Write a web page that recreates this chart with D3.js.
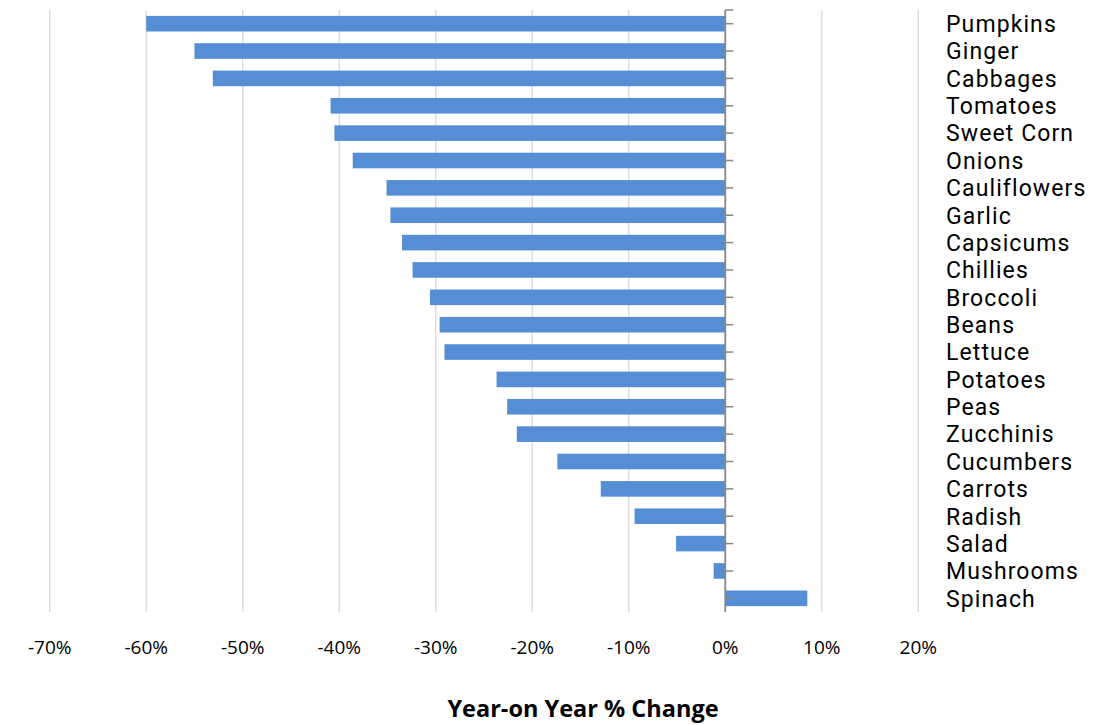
<!DOCTYPE html>
<html>
<head>
<meta charset="utf-8">
<script src="https://cdn.jsdelivr.net/npm/d3@7"></script>
<style>
  body { margin: 0; background: #fff; }
</style>
</head>
<body>
<div id="chart"></div>
<script>
// Vegetables, in the order shown top to bottom
const categories = [
  "Pumpkins", "Ginger", "Cabbages", "Tomatoes", "Sweet Corn", "Onions",
  "Cauliflowers", "Garlic", "Capsicums", "Chillies", "Broccoli", "Beans",
  "Lettuce", "Potatoes", "Peas", "Zucchinis", "Cucumbers", "Carrots",
  "Radish", "Salad", "Mushrooms", "Spinach"
];

// Year-on-year % change
const changes = [
  -60.0, -55.0, -53.1, -40.9, -40.5, -38.6,
  -35.1, -34.7, -33.5, -32.4, -30.6, -29.6,
  -29.1, -23.7, -22.6, -21.6, -17.4, -12.9,
  -9.4, -5.1, -1.2, 8.5
];

const tickValues = [-70, -60, -50, -40, -30, -20, -10, 0, 10, 20];

const width = 1104;
const height = 725;
const plot = { left: 49.7, right: 918.3, top: 10, bottom: 612 };

const svg = d3.select("#chart")
  .append("svg")
  .attr("width", width)
  .attr("height", height)
  .style("font-family", "'Open Sans', sans-serif");

const x = d3.scaleLinear()
  .domain([-70, 20])
  .range([plot.left, plot.right]);

const y = d3.scaleBand()
  .domain(categories)
  .range([plot.top, plot.bottom])
  .paddingInner(0.43)
  .paddingOuter(0.215);

// vertical gridlines
svg.append("g")
  .selectAll("line")
  .data(tickValues)
  .join("line")
  .attr("x1", d => x(d))
  .attr("x2", d => x(d))
  .attr("y1", plot.top)
  .attr("y2", plot.bottom)
  .attr("stroke", "#d9d9d9")
  .attr("stroke-width", 1.3);

// bars
svg.append("g")
  .selectAll("rect")
  .data(categories)
  .join("rect")
  .attr("x", (d, i) => Math.min(x(0), x(changes[i])))
  .attr("width", (d, i) => Math.abs(x(changes[i]) - x(0)))
  .attr("y", d => y(d))
  .attr("height", y.bandwidth())
  .attr("fill", "#558ed5");

// zero axis with tick marks
const axisG = svg.append("g");
axisG.append("line")
  .attr("x1", x(0)).attr("x2", x(0))
  .attr("y1", plot.top).attr("y2", plot.bottom)
  .attr("stroke", "#898989")
  .attr("stroke-width", 1.8);

const tickYs = [plot.top].concat(categories.map(d => y(d) + y.bandwidth() / 2));
axisG.selectAll("line.tick")
  .data(tickYs)
  .join("line")
  .attr("class", "tick")
  .attr("x1", x(0)).attr("x2", x(0) + 8)
  .attr("y1", d => d).attr("y2", d => d)
  .attr("stroke", "#898989")
  .attr("stroke-width", 1.5);

// category labels at the right (Roboto keeps the line box inside one band)
svg.append("g")
  .selectAll("text")
  .data(categories)
  .join("text")
  .attr("x", 946)
  .attr("y", d => y(d) + y.bandwidth() / 2)
  .attr("dy", "0.36em")
  .attr("font-family", "Roboto, sans-serif")
  .attr("font-size", 23)
  .attr("letter-spacing", 1.1)
  .attr("fill", "#000")
  .text(d => d);

// x tick labels (plain hyphen, as in the original)
svg.append("g")
  .selectAll("text")
  .data(tickValues)
  .join("text")
  .attr("x", d => x(d))
  .attr("y", 647)
  .attr("dy", "0.36em")
  .attr("text-anchor", "middle")
  .attr("font-size", 19)
  .attr("fill", "#000")
  .text(d => String(d) + "%");

// axis title
svg.append("text")
  .attr("x", 583)
  .attr("y", 717)
  .attr("text-anchor", "middle")
  .attr("font-size", 23.5)
  .attr("font-weight", "bold")
  .attr("fill", "#000")
  .text("Year-on Year % Change");
</script>
</body>
</html>
